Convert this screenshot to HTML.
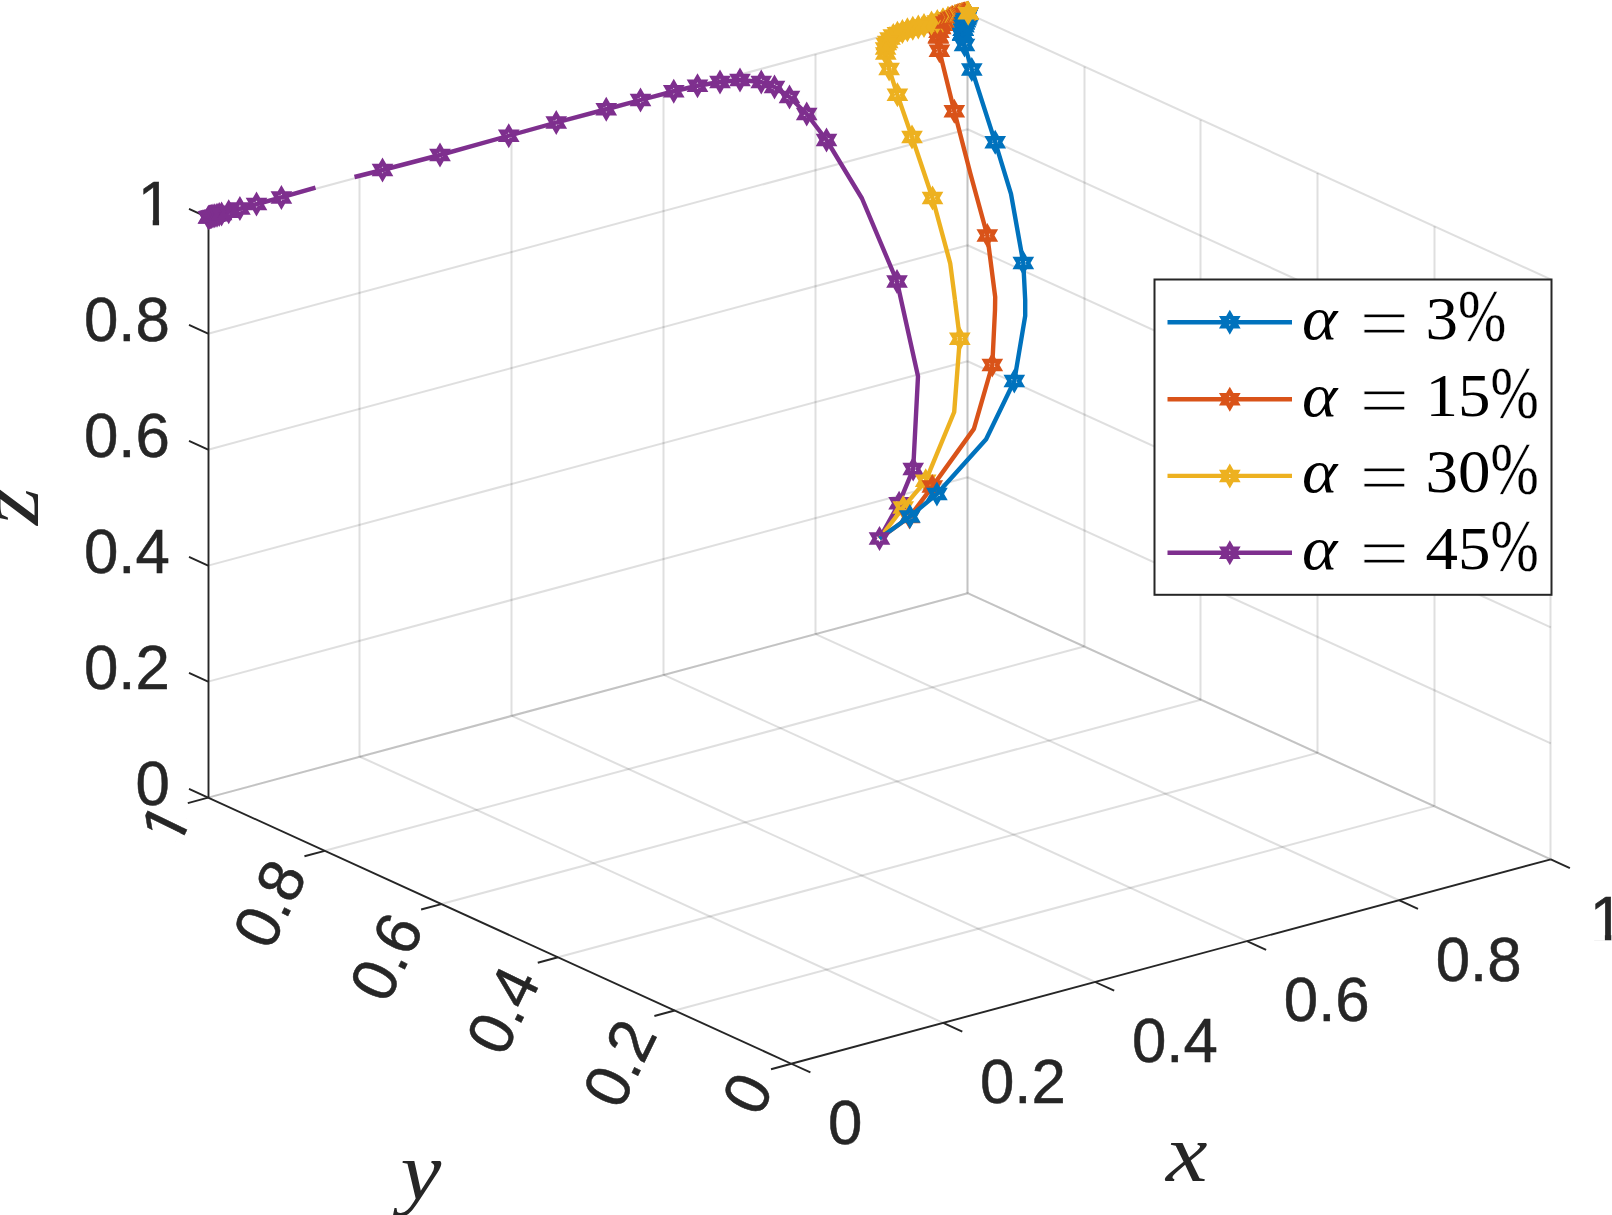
<!DOCTYPE html>
<html lang="en"><head><meta charset="utf-8"><title>3D trajectories</title><style>html,body{margin:0;padding:0;background:#fff}
svg{display:block}
.g{stroke:#262626;stroke-opacity:.15;stroke-width:2;fill:none}
.a{stroke:#262626;stroke-width:1.9;fill:none;stroke-linecap:butt}
.t{font-family:"Liberation Sans",Arial,Helvetica,sans-serif;font-size:61.8px;fill:#262626;stroke:#262626;stroke-width:.5}
.m{font-family:"Liberation Serif","Times New Roman",serif;font-style:italic;fill:#262626}
.lg{font-family:"Liberation Serif","Times New Roman",serif;fill:#000}
.it{font-style:italic}
.eq{stroke:#fff;stroke-width:.9}
.pc{stroke:#fff;stroke-width:.3}
.c{fill:none;stroke-width:4.4;stroke-linejoin:round;stroke-linecap:butt}
</style></head><body>
<svg width="1612" height="1215" viewBox="0 0 1612 1215">
<rect width="1612" height="1215" fill="#fff"/>
<defs><path id="s" d="M0 -12.5L-3.61 -6.25L-10.83 -6.25L-7.22 -0L-10.83 6.25L-3.61 6.25L-0 12.5L3.61 6.25L10.83 6.25L7.22 0L10.83 -6.25L3.61 -6.25ZM0 -3.6L-1.04 -1.8L-3.12 -1.8L-2.08 -0L-3.12 1.8L-1.04 1.8L-0 3.6L1.04 1.8L3.12 1.8L2.08 0L3.12 -1.8L1.04 -1.8Z" fill-rule="evenodd"/><path id="t" d="M0 -12.5L-3.61 -6.25L-10.83 -6.25L-7.22 -0L-10.83 6.25L-3.61 6.25L-0 12.5L3.61 6.25L10.83 6.25L7.22 0L10.83 -6.25L3.61 -6.25Z"/></defs>
<g id="grid"><line class="g" x1="208.1" y1="797.6" x2="967.6" y2="593.2"/><line class="g" x1="1550.5" y1="859.35" x2="1550.5" y2="279.45"/><line class="g" x1="1550.8" y1="859.35" x2="967.6" y2="593.2"/><line class="g" x1="359.5" y1="756.72" x2="359.5" y2="176.82"/><line class="g" x1="208.1" y1="681.62" x2="967.6" y2="477.22"/><line class="g" x1="1434.5" y1="806.12" x2="1434.5" y2="226.22"/><line class="g" x1="1550.8" y1="743.37" x2="967.6" y2="477.22"/><line class="g" x1="943.2" y1="1022.87" x2="360" y2="756.72"/><line class="g" x1="674.66" y1="1010.52" x2="1434.16" y2="806.12"/><line class="g" x1="511.5" y1="715.84" x2="511.5" y2="135.94"/><line class="g" x1="208.1" y1="565.64" x2="967.6" y2="361.24"/><line class="g" x1="1317.5" y1="752.89" x2="1317.5" y2="172.99"/><line class="g" x1="1550.8" y1="627.39" x2="967.6" y2="361.24"/><line class="g" x1="1095.1" y1="981.99" x2="511.9" y2="715.84"/><line class="g" x1="558.02" y1="957.29" x2="1317.52" y2="752.89"/><line class="g" x1="663.5" y1="674.96" x2="663.5" y2="95.06"/><line class="g" x1="208.1" y1="449.66" x2="967.6" y2="245.26"/><line class="g" x1="1200.5" y1="699.66" x2="1200.5" y2="119.76"/><line class="g" x1="1550.8" y1="511.41" x2="967.6" y2="245.26"/><line class="g" x1="1247" y1="941.11" x2="663.8" y2="674.96"/><line class="g" x1="441.38" y1="904.06" x2="1200.88" y2="699.66"/><line class="g" x1="815.5" y1="634.08" x2="815.5" y2="54.18"/><line class="g" x1="208.1" y1="333.68" x2="967.6" y2="129.28"/><line class="g" x1="1084.5" y1="646.43" x2="1084.5" y2="66.53"/><line class="g" x1="1550.8" y1="395.43" x2="967.6" y2="129.28"/><line class="g" x1="1398.9" y1="900.23" x2="815.7" y2="634.08"/><line class="g" x1="324.74" y1="850.83" x2="1084.24" y2="646.43"/><line class="g" x1="967.5" y1="593.2" x2="967.5" y2="13.3"/><line class="g" x1="208.1" y1="217.7" x2="967.6" y2="13.3"/><line class="g" x1="967.5" y1="593.2" x2="967.5" y2="13.3"/><line class="g" x1="1550.8" y1="279.45" x2="967.6" y2="13.3"/><line class="g" x1="1550.8" y1="859.35" x2="967.6" y2="593.2"/><line class="g" x1="208.1" y1="797.6" x2="967.6" y2="593.2"/></g>
<g id="axes"><line class="a" x1="208.5" y1="797.6" x2="208.5" y2="217.7"/><line class="a" x1="791.3" y1="1063.75" x2="208.1" y2="797.6"/><line class="a" x1="791.3" y1="1063.75" x2="1550.8" y2="859.35"/><line class="a" x1="208.1" y1="797.6" x2="189" y2="788.88"/><line class="a" x1="791.3" y1="1063.75" x2="771.02" y2="1069.21"/><line class="a" x1="791.3" y1="1063.75" x2="810.4" y2="1072.47"/><line class="a" x1="208.1" y1="681.62" x2="189" y2="672.9"/><line class="a" x1="674.66" y1="1010.52" x2="654.38" y2="1015.98"/><line class="a" x1="943.2" y1="1022.87" x2="962.3" y2="1031.59"/><line class="a" x1="208.1" y1="565.64" x2="189" y2="556.92"/><line class="a" x1="558.02" y1="957.29" x2="537.74" y2="962.75"/><line class="a" x1="1095.1" y1="981.99" x2="1114.2" y2="990.71"/><line class="a" x1="208.1" y1="449.66" x2="189" y2="440.94"/><line class="a" x1="441.38" y1="904.06" x2="421.1" y2="909.52"/><line class="a" x1="1247" y1="941.11" x2="1266.1" y2="949.83"/><line class="a" x1="208.1" y1="333.68" x2="189" y2="324.96"/><line class="a" x1="324.74" y1="850.83" x2="304.46" y2="856.29"/><line class="a" x1="1398.9" y1="900.23" x2="1418" y2="908.95"/><line class="a" x1="208.1" y1="217.7" x2="189" y2="208.98"/><line class="a" x1="208.1" y1="797.6" x2="187.82" y2="803.06"/><line class="a" x1="1550.8" y1="859.35" x2="1569.9" y2="868.07"/></g>
<g id="ticklabels"><g transform="translate(169.8 804.8) scale(1 1.025)"><text class="t" text-anchor="end" x="0" y="0">0</text></g><g transform="translate(754.52 1077.81) rotate(-64) translate(0 22.4) scale(1 1.025)"><text class="t" text-anchor="end" x="0" y="0">0</text></g><g transform="translate(828.1 1144.05) scale(1 1.025)"><text class="t" text-anchor="start" x="0" y="0">0</text></g><g transform="translate(169.8 688.82) scale(1 1.025)"><text class="t" text-anchor="end" x="0" y="0">0.2</text></g><g transform="translate(637.88 1024.58) rotate(-64) translate(0 22.4) scale(1 1.025)"><text class="t" text-anchor="end" x="0" y="0">0.2</text></g><g transform="translate(980 1103.17) scale(1 1.025)"><text class="t" text-anchor="start" x="0" y="0">0.2</text></g><g transform="translate(169.8 572.84) scale(1 1.025)"><text class="t" text-anchor="end" x="0" y="0">0.4</text></g><g transform="translate(521.24 971.35) rotate(-64) translate(0 22.4) scale(1 1.025)"><text class="t" text-anchor="end" x="0" y="0">0.4</text></g><g transform="translate(1131.9 1062.29) scale(1 1.025)"><text class="t" text-anchor="start" x="0" y="0">0.4</text></g><g transform="translate(169.8 456.86) scale(1 1.025)"><text class="t" text-anchor="end" x="0" y="0">0.6</text></g><g transform="translate(404.6 918.12) rotate(-64) translate(0 22.4) scale(1 1.025)"><text class="t" text-anchor="end" x="0" y="0">0.6</text></g><g transform="translate(1283.8 1021.41) scale(1 1.025)"><text class="t" text-anchor="start" x="0" y="0">0.6</text></g><g transform="translate(169.8 340.88) scale(1 1.025)"><text class="t" text-anchor="end" x="0" y="0">0.8</text></g><g transform="translate(287.96 864.89) rotate(-64) translate(0 22.4) scale(1 1.025)"><text class="t" text-anchor="end" x="0" y="0">0.8</text></g><g transform="translate(1435.7 980.53) scale(1 1.025)"><text class="t" text-anchor="start" x="0" y="0">0.8</text></g><g transform="translate(172 224.9) scale(1 1.025)"><text class="t" text-anchor="end" x="0" y="0">1</text><rect fill="#fff" x="-30.86" y="-5.52" width="11.58" height="6.62"/><rect fill="#fff" x="-12.92" y="-5.52" width="11.1" height="6.62"/></g><g transform="translate(171.62 810.06) rotate(-64) translate(2.2 22.4) scale(1 1.025)"><text class="t" text-anchor="end" x="0" y="0">1</text><rect fill="#fff" x="-30.86" y="-5.52" width="11.58" height="6.62"/><rect fill="#fff" x="-12.92" y="-5.52" width="11.1" height="6.62"/></g><g transform="translate(1589.8 939.65) scale(1 1.025)"><text class="t" text-anchor="start" x="0" y="0">1</text><rect fill="#fff" x="3.51" y="-5.52" width="11.58" height="6.62"/><rect fill="#fff" x="21.45" y="-5.52" width="11.1" height="6.62"/></g></g>
<text class="m" font-size="82" transform="translate(1166 1180.5) scale(1.14 1)" x="0" y="0">x</text>
<text class="m" font-size="82" transform="translate(400.5 1198.5) scale(1.12 1)" x="0" y="0">y</text>
<text class="m" font-size="88" transform="translate(38 525) rotate(-90) scale(1.1 1)" x="0" y="0">z</text>
<g id="curves"><g fill="#0072BD" stroke="#0072BD"><polyline class="c" points="968.2,13.2 964,24 962.6,34.5 964.5,44.9 971.8,69.4 995.2,142.2 1011,193.8 1023.3,262.9 1025.2,300"/><g stroke="none"><use href="#s" x="968.2" y="13.2"/><use href="#s" x="967.98" y="13.76"/><use href="#s" x="967.72" y="14.44"/><use href="#s" x="967.39" y="15.28"/><use href="#s" x="967" y="16.29"/><use href="#s" x="966.51" y="17.54"/><use href="#s" x="965.92" y="19.05"/><use href="#s" x="965.2" y="20.9"/><use href="#s" x="964.32" y="23.17"/><use href="#s" x="963.73" y="26.05"/><use href="#s" x="963.25" y="29.63"/><use href="#s" x="962.67" y="34.01"/><use href="#s" x="962.6" y="34.5"/><use href="#s" x="964.5" y="44.9"/><use href="#s" x="971.8" y="69.4"/><use href="#s" x="995.2" y="142.2"/><use href="#s" x="1023.3" y="262.9"/></g></g><g fill="#D95319" stroke="#D95319"><polyline class="c" points="968.2,13.2 959,15.5 950.8,18.4 941.6,26 938.5,33 938.3,37.4 939.4,50.7 954.3,111.3 970.5,174 987.3,235.5 995.2,297 995,310"/><g stroke="none"><use href="#s" x="968.2" y="13.2"/><use href="#s" x="967.62" y="13.35"/><use href="#s" x="966.97" y="13.51"/><use href="#s" x="966.24" y="13.69"/><use href="#s" x="965.43" y="13.89"/><use href="#s" x="964.53" y="14.12"/><use href="#s" x="963.52" y="14.37"/><use href="#s" x="962.4" y="14.65"/><use href="#s" x="961.14" y="14.97"/><use href="#s" x="959.74" y="15.32"/><use href="#s" x="958.2" y="15.78"/><use href="#s" x="956.5" y="16.39"/><use href="#s" x="954.6" y="17.06"/><use href="#s" x="952.49" y="17.8"/><use href="#s" x="950.25" y="18.86"/><use href="#s" x="948.09" y="20.64"/><use href="#s" x="945.69" y="22.62"/><use href="#s" x="943" y="24.84"/><use href="#s" x="940.76" y="27.89"/><use href="#s" x="939.01" y="31.86"/><use href="#s" x="938.34" y="36.59"/><use href="#s" x="938.3" y="37.4"/><use href="#s" x="939.4" y="50.7"/><use href="#s" x="954.3" y="111.3"/><use href="#s" x="987.3" y="235.5"/></g></g><g fill="#EDB120" stroke="#EDB120"><polyline class="c" points="968.2,13.2 955,16.5 943,20 931.2,23 924,25.5 907.4,29.7 895,34 888.5,40 885.7,47 885.8,53.5 889.1,69 897.4,94.8 912,137 932.5,198 950.2,263.3 955,300"/><g stroke="none"><use href="#s" x="968.2" y="13.2"/><use href="#s" x="967.9" y="13.28"/><use href="#s" x="967.5" y="13.38"/><use href="#s" x="967" y="13.5"/><use href="#s" x="966.3" y="13.68"/><use href="#s" x="965.5" y="13.88"/><use href="#s" x="964.5" y="14.13"/><use href="#s" x="963.3" y="14.43"/><use href="#s" x="961.8" y="14.8"/><use href="#s" x="960" y="15.25"/><use href="#s" x="957.8" y="15.8"/><use href="#s" x="955.2" y="16.45"/><use href="#s" x="952" y="17.38"/><use href="#s" x="948" y="18.54"/><use href="#s" x="943" y="20"/><use href="#s" x="937.3" y="21.45"/><use href="#s" x="931.5" y="22.92"/><use href="#s" x="924" y="25.5"/><use href="#s" x="918.3" y="26.94"/><use href="#s" x="912.8" y="28.33"/><use href="#s" x="907.4" y="29.7"/><use href="#s" x="902.4" y="31.43"/><use href="#s" x="897.4" y="33.17"/><use href="#s" x="893.3" y="35.57"/><use href="#s" x="890" y="38.62"/><use href="#s" x="887.7" y="42"/><use href="#s" x="886.3" y="44"/><use href="#s" x="885.6" y="48.5"/><use href="#s" x="885.8" y="53.5"/><use href="#s" x="889.1" y="69"/><use href="#s" x="897.4" y="94.8"/><use href="#s" x="912" y="137"/><use href="#s" x="932.5" y="198"/></g></g><g><use href="#s" fill="#EDB120" x="943" y="20"/><use href="#s" fill="#D95319" x="945.69" y="22.62"/><use href="#s" fill="#EDB120" x="948" y="18.54"/><use href="#s" fill="#D95319" x="948.09" y="20.64"/><use href="#s" fill="#D95319" x="950.25" y="18.86"/><use href="#s" fill="#EDB120" x="952" y="17.38"/><use href="#s" fill="#D95319" x="952.49" y="17.8"/><use href="#s" fill="#D95319" x="954.6" y="17.06"/><use href="#s" fill="#EDB120" x="955.2" y="16.45"/><use href="#s" fill="#D95319" x="956.5" y="16.39"/><use href="#s" fill="#EDB120" x="957.8" y="15.8"/><use href="#s" fill="#D95319" x="958.2" y="15.78"/><use href="#s" fill="#D95319" x="959.74" y="15.32"/><use href="#s" fill="#EDB120" x="960" y="15.25"/><use href="#s" fill="#D95319" x="961.14" y="14.97"/><use href="#s" fill="#EDB120" x="961.8" y="14.8"/><use href="#s" fill="#D95319" x="962.4" y="14.65"/><use href="#s" fill="#EDB120" x="963.3" y="14.43"/><use href="#s" fill="#D95319" x="963.52" y="14.37"/><use href="#s" fill="#EDB120" x="964.5" y="14.13"/><use href="#s" fill="#D95319" x="964.53" y="14.12"/></g><g fill="#0072BD" stroke="#0072BD"><polyline class="c" points="968.2,13.2 964,24 962.6,34.5"/><g stroke="none"><use href="#s" x="965.92" y="19.05"/><use href="#s" x="965.2" y="20.9"/><use href="#s" x="964.32" y="23.17"/><use href="#s" x="963.73" y="26.05"/><use href="#s" x="963.25" y="29.63"/><use href="#s" x="962.67" y="34.01"/><use href="#s" x="962.6" y="34.5"/></g></g><use href="#t" fill="#EDB120" x="968.2" y="13.2"/><g fill="#7E2F8E" stroke="#7E2F8E"><polyline class="c" points="208.3,217.4 281.4,197.4 315.5,187.6"/><polyline class="c" points="354.5,177 382.5,170 440,155 508.75,135.75 556.25,122.5 606.25,109.25 640.5,100 673.75,91.25 697.5,85.75 720,82 740,80 761.25,82 774.5,87 789.5,97 806.7,114 826.5,140 862,198.5 897,281.5 918,376.3 913.2,469.1 899.1,503.2 879.5,538.5"/><g stroke="none"><use href="#s" x="208.3" y="217.4"/><use href="#s" x="208.9" y="217.2"/><use href="#s" x="209.6" y="217"/><use href="#s" x="210.5" y="216.8"/><use href="#s" x="211.6" y="216.5"/><use href="#s" x="213" y="216.1"/><use href="#s" x="214.8" y="215.7"/><use href="#s" x="217" y="215.2"/><use href="#s" x="219.2" y="214.6"/><use href="#s" x="221.6" y="214"/><use href="#s" x="228.7" y="211.7"/><use href="#s" x="239.9" y="208.4"/><use href="#s" x="256.5" y="204.1"/><use href="#s" x="281.4" y="197.4"/><use href="#s" x="382.5" y="170"/><use href="#s" x="440" y="155"/><use href="#s" x="508.75" y="135.75"/><use href="#s" x="556.25" y="122.5"/><use href="#s" x="606.25" y="109.25"/><use href="#s" x="640.5" y="100"/><use href="#s" x="673.75" y="91.25"/><use href="#s" x="697.5" y="85.75"/><use href="#s" x="720" y="82"/><use href="#s" x="740" y="80"/><use href="#s" x="761.25" y="82"/><use href="#s" x="774.5" y="87"/><use href="#s" x="789.5" y="97"/><use href="#s" x="806.7" y="114"/><use href="#s" x="826.5" y="140"/><use href="#s" x="897" y="281.5"/><use href="#s" x="913.2" y="469.1"/><use href="#s" x="899.1" y="503.2"/></g></g><g fill="#EDB120" stroke="#EDB120"><polyline class="c" points="955,300 959.8,338.8 954.2,412 925.7,480.8 903.2,507.4 879.5,538.5"/><g stroke="none"><use href="#s" x="959.8" y="338.8"/><use href="#s" x="925.7" y="480.8"/><use href="#s" x="903.2" y="507.4"/></g></g><g fill="#D95319" stroke="#D95319"><polyline class="c" points="995,310 992.3,365 973.9,428.9 932.3,486.6 909.5,517 879.5,538.5"/><g stroke="none"><use href="#s" x="992.3" y="365"/><use href="#s" x="932.3" y="486.6"/><use href="#s" x="909.5" y="517"/></g></g><g fill="#0072BD" stroke="#0072BD"><polyline class="c" points="1025.2,300 1025.2,315.8 1014.3,381 986.1,439.2 936.9,494 909.9,516.5 879.5,538.5"/><g stroke="none"><use href="#s" x="1014.3" y="381"/><use href="#s" x="936.9" y="494"/><use href="#s" x="909.9" y="516.5"/></g></g><g fill="#7E2F8E" stroke="#7E2F8E"><g stroke="none"><use href="#s" x="879.5" y="538.5"/></g></g></g>
<g id="legend"><rect x="1154.5" y="279.5" width="397" height="315.3" fill="#fff" stroke="#262626" stroke-width="2"/><g fill="#0072BD" stroke="#0072BD"><line class="c" x1="1167.5" y1="322.3" x2="1292" y2="322.3"/><use href="#s" stroke="none" x="1229.8" y="322.3"/></g><text class="lg it" font-size="60.3" transform="translate(1302 338.8) scale(1.118 1)">α</text><text class="lg eq" font-size="76.6" transform="translate(1359.6 349) scale(1.15 1)">=</text><text class="lg" font-size="62" transform="translate(1425.5 338.8) scale(1.048 1)">3</text><text class="lg pc" font-size="75" transform="translate(1458 340.8) scale(0.773 1)">%</text><g fill="#D95319" stroke="#D95319"><line class="c" x1="1167.5" y1="399.2" x2="1292" y2="399.2"/><use href="#s" stroke="none" x="1229.8" y="399.2"/></g><text class="lg it" font-size="60.3" transform="translate(1302 415.7) scale(1.118 1)">α</text><text class="lg eq" font-size="76.6" transform="translate(1359.6 425.9) scale(1.15 1)">=</text><text class="lg" font-size="62" transform="translate(1425.5 415.7) scale(1.048 1)">15</text><text class="lg pc" font-size="75" transform="translate(1490.5 417.7) scale(0.773 1)">%</text><g fill="#EDB120" stroke="#EDB120"><line class="c" x1="1167.5" y1="475.9" x2="1292" y2="475.9"/><use href="#s" stroke="none" x="1229.8" y="475.9"/></g><text class="lg it" font-size="60.3" transform="translate(1302 492.4) scale(1.118 1)">α</text><text class="lg eq" font-size="76.6" transform="translate(1359.6 502.6) scale(1.15 1)">=</text><text class="lg" font-size="62" transform="translate(1425.5 492.4) scale(1.048 1)">30</text><text class="lg pc" font-size="75" transform="translate(1490.5 494.4) scale(0.773 1)">%</text><g fill="#7E2F8E" stroke="#7E2F8E"><line class="c" x1="1167.5" y1="552.7" x2="1292" y2="552.7"/><use href="#s" stroke="none" x="1229.8" y="552.7"/></g><text class="lg it" font-size="60.3" transform="translate(1302 569.2) scale(1.118 1)">α</text><text class="lg eq" font-size="76.6" transform="translate(1359.6 579.4) scale(1.15 1)">=</text><text class="lg" font-size="62" transform="translate(1425.5 569.2) scale(1.048 1)">45</text><text class="lg pc" font-size="75" transform="translate(1490.5 571.2) scale(0.773 1)">%</text></g>
</svg>
</body></html>
